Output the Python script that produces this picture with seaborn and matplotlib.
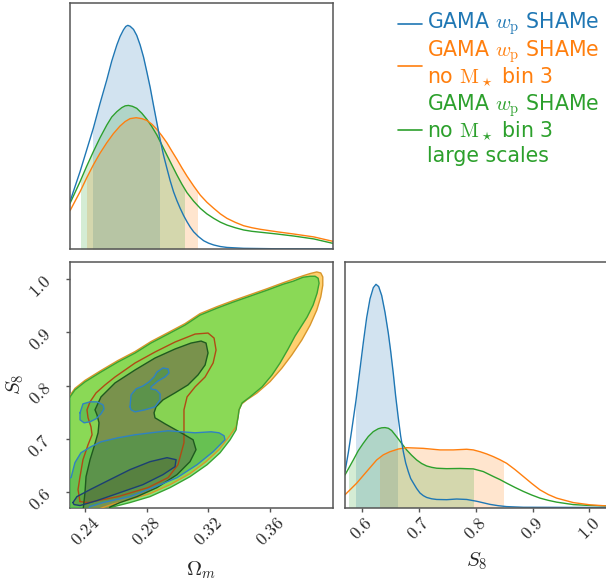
import numpy as np
import matplotlib
matplotlib.use("Agg")
import matplotlib.pyplot as plt
import seaborn as sns
from matplotlib.patches import Rectangle
from matplotlib.lines import Line2D

sns.set_style("white")
plt.rcParams["font.family"] = ["DejaVu Sans"]
plt.rcParams["mathtext.fontset"] = "cm"

# ---------------- data ----------------
labels = [r"GAMA $w_{\rm p}$ SHAMe",
          "GAMA $w_{\\rm p}$ SHAMe\nno $\\mathrm{M}_\\star$ bin 3",
          "GAMA $w_{\\rm p}$ SHAMe\nno $\\mathrm{M}_\\star$ bin 3\nlarge scales"]
colors = ["#1f77b4", "#ff7f0e", "#2ca02c"]

om_ticks = [0.24, 0.28, 0.32, 0.36]
s8_ticks = [0.6, 0.7, 0.8, 0.9, 1.0]
om_lim = (0.2303, 0.4005)
s8_lim = (0.5708, 1.0325)

# marginal of Omega_m (relative density, peak of first chain = 1)
om_blue_x = [0.2303,0.2335,0.2368,0.2411,0.2454,0.2497,0.2541,0.2573,0.2606,0.2627,0.2649,0.2664,
             0.2677,0.2692,0.2714,0.2735,0.2757,0.2779,0.2800,0.2822,0.2843,0.2865,0.2887,0.2908,
             0.2930,0.2951,0.2973,0.2995,0.3016,0.3038,0.3060,0.3081,0.3103,0.3135,0.3168,0.3200,
             0.3233,0.3276,0.3319,0.3427,0.3643,0.4006]
om_blue_d = [0.212,0.278,0.346,0.443,0.540,0.650,0.756,0.840,0.912,0.950,0.980,0.995,
             1.000,0.996,0.982,0.955,0.912,0.858,0.793,0.722,0.644,0.565,0.487,0.420,
             0.361,0.306,0.256,0.216,0.182,0.150,0.122,0.098,0.077,0.055,0.037,0.026,
             0.018,0.011,0.007,0.003,0.001,0.0]
om_orange_x = [0.2303,0.2368,0.2411,0.2454,0.2497,0.2541,0.2584,0.2627,0.2660,0.2692,0.2731,0.2768,
               0.2800,0.2833,0.2865,0.2897,0.2930,0.2962,0.2995,0.3027,0.3060,0.3103,0.3146,0.3189,
               0.3233,0.3276,0.3319,0.3373,0.3427,0.3481,0.3535,0.3643,0.3751,0.3881,0.4006]
om_orange_d = [0.171,0.256,0.318,0.376,0.428,0.475,0.516,0.550,0.570,0.583,0.587,0.583,
               0.575,0.558,0.535,0.507,0.475,0.438,0.401,0.363,0.326,0.282,0.241,0.209,
               0.182,0.157,0.137,0.119,0.104,0.095,0.088,0.077,0.067,0.054,0.034]
om_green_x = [0.2303,0.2368,0.2411,0.2454,0.2497,0.2541,0.2573,0.2606,0.2638,0.2660,0.2681,0.2707,
              0.2735,0.2768,0.2800,0.2833,0.2865,0.2897,0.2930,0.2962,0.2995,0.3027,0.3060,0.3103,
              0.3146,0.3189,0.3233,0.3276,0.3319,0.3373,0.3427,0.3481,0.3535,0.3643,0.3751,0.3881,
              0.4006]
om_green_d = [0.204,0.301,0.370,0.435,0.497,0.554,0.590,0.614,0.632,0.640,0.642,0.638,
              0.629,0.607,0.580,0.547,0.510,0.466,0.420,0.376,0.331,0.290,0.252,0.214,
              0.182,0.157,0.137,0.120,0.107,0.095,0.085,0.079,0.075,0.067,0.058,0.045,
              0.025]

# marginal of S8
s8_blue_x = [0.5708,0.5766,0.5825,0.5901,0.5971,0.6030,0.6088,0.6147,0.6205,0.6252,0.6299,0.6352,
             0.6410,0.6469,0.6510,0.6556,0.6597,0.6644,0.6685,0.6732,0.6773,0.6820,0.6861,0.6907,
             0.6966,0.7024,0.7083,0.7142,0.7229,0.7317,0.7493,0.7668,0.7844,0.8019,0.8136,0.8253,
             0.8400,0.8546,0.8839,1.0302]
s8_blue_d = [0.161,0.245,0.345,0.480,0.620,0.740,0.850,0.935,0.985,1.000,0.990,0.950,
             0.875,0.780,0.700,0.600,0.500,0.400,0.320,0.250,0.200,0.160,0.130,0.110,
             0.085,0.065,0.053,0.045,0.039,0.036,0.035,0.038,0.036,0.028,0.021,0.014,
             0.008,0.004,0.001,0.0]
s8_orange_x = [0.5708,0.5913,0.6088,0.6264,0.6381,0.6498,0.6644,0.6790,0.7083,0.7376,0.7610,0.7844,
               0.7961,0.8078,0.8195,0.8312,0.8429,0.8546,0.8692,0.8839,0.8985,0.9131,0.9278,0.9424,
               0.9716,1.0009,1.0302]
s8_orange_d = [0.057,0.109,0.161,0.213,0.236,0.250,0.262,0.268,0.265,0.258,0.258,0.261,
               0.258,0.250,0.240,0.228,0.214,0.198,0.170,0.139,0.108,0.079,0.058,0.042,
               0.022,0.012,0.007]
s8_green_x = [0.5708,0.5854,0.5942,0.6030,0.6117,0.6205,0.6293,0.6352,0.6410,0.6469,0.6527,0.6615,
              0.6703,0.6790,0.6878,0.6966,0.7054,0.7142,0.7229,0.7317,0.7493,0.7727,0.7961,0.8136,
              0.8312,0.8429,0.8546,0.8692,0.8839,0.8985,0.9131,0.9278,0.9424,0.9716,1.0009,1.0302]
s8_green_d = [0.146,0.213,0.255,0.288,0.318,0.340,0.353,0.357,0.358,0.355,0.345,0.317,
              0.287,0.258,0.234,0.213,0.197,0.186,0.180,0.176,0.174,0.175,0.173,0.161,
              0.139,0.125,0.109,0.090,0.072,0.056,0.042,0.032,0.024,0.013,0.009,0.007]

# 68% intervals
om_intervals = [(0.2454, 0.2878), (0.2411, 0.3124), (0.2374, 0.3042)]
s8_intervals = [(0.5901, 0.6615), (0.6322, 0.8487), (0.5778, 0.7961)]

# 2D contours (Omega_m, S8)
green95_om = [0.2303,0.2335,0.2400,0.2504,0.2614,0.2725,0.2828,0.2939,0.3049,0.3146,0.3256,0.3360,
              0.3470,0.3581,0.3685,0.3749,0.3814,0.3860,0.3892,0.3912,0.3918,0.3905,0.3879,0.3840,
              0.3795,0.3762,0.3717,0.3665,0.3613,0.3548,0.3470,0.3419,0.3399,0.3393,0.3386,0.3380,
              0.3341,0.3276,0.3192,0.3081,0.2952,0.2822,0.2692,0.2582,0.2498,0.2108,0.2108]
green95_s8 = [0.7788,0.7920,0.8070,0.8257,0.8445,0.8613,0.8801,0.8970,0.9139,0.9326,0.9457,0.9570,
              0.9682,0.9795,0.9907,0.9963,1.0038,1.0057,1.0057,1.0020,0.9926,0.9738,0.9513,0.9288,
              0.9082,0.8932,0.8688,0.8426,0.8201,0.7976,0.7788,0.7676,0.7545,0.7413,0.7301,0.7170,
              0.6982,0.6738,0.6513,0.6288,0.6082,0.5913,0.5801,0.5720,0.5632,0.5295,0.7920]
orange95_om = [0.2303,0.2335,0.2400,0.2504,0.2614,0.2725,0.2828,0.2939,0.3049,0.3146,0.3256,0.3360,
               0.3470,0.3581,0.3685,0.3749,0.3814,0.3860,0.3903,0.3929,0.3942,0.3942,0.3929,0.3903,
               0.3860,0.3806,0.3741,0.3676,0.3600,0.3514,0.3449,0.3417,0.3399,0.3393,0.3386,0.3380,
               0.3334,0.3269,0.3185,0.3081,0.2952,0.2822,0.2692,0.2582,0.2498,0.2433,0.2108,0.2108]
orange95_s8 = [0.7816,0.7948,0.8098,0.8285,0.8473,0.8641,0.8829,0.8998,0.9167,0.9354,0.9485,0.9598,
               0.9710,0.9823,0.9935,1.0001,1.0066,1.0108,1.0138,1.0119,1.0044,0.9888,0.9669,0.9420,
               0.9138,0.8857,0.8576,0.8326,0.8075,0.7858,0.7732,0.7657,0.7545,0.7413,0.7301,0.7226,
               0.7038,0.6795,0.6570,0.6345,0.6138,0.5970,0.5857,0.5773,0.5689,0.5614,0.5295,0.7920]
orange68_om = [0.2368,0.2355,0.2368,0.2387,0.2420,0.2446,0.2439,0.2420,0.2413,0.2433,0.2472,0.2530,
               0.2595,0.2725,0.2854,0.2984,0.3114,0.3198,0.3237,0.3250,0.3231,0.3179,0.3114,0.3062,
               0.3042,0.3042,0.3042,0.3003,0.2939,0.2809,0.2614,0.2420]
orange68_s8 = [0.5819,0.6044,0.6288,0.6607,0.6888,0.7076,0.7226,0.7395,0.7545,0.7695,0.7863,0.8013,
               0.8163,0.8426,0.8632,0.8820,0.8970,0.8989,0.8895,0.8669,0.8426,0.8163,0.7976,0.7788,
               0.7545,0.7263,0.6926,0.6513,0.6270,0.6082,0.5913,0.5801]
green68_om = [0.2387,0.2400,0.2407,0.2433,0.2459,0.2485,0.2491,0.2478,0.2465,0.2504,0.2595,0.2725,
              0.2854,0.2984,0.3088,0.3153,0.3185,0.3198,0.3179,0.3133,0.3068,0.2984,0.2906,0.2861,
              0.2848,0.2854,0.2887,0.2919,0.3023,0.3101,0.3120,0.3081,0.2997,0.2867,0.2738,0.2627,
              0.2562,0.2543]
green68_s8 = [0.5632,0.5988,0.6288,0.6607,0.6851,0.7113,0.7301,0.7451,0.7545,0.7788,0.8051,0.8295,
              0.8519,0.8689,0.8801,0.8838,0.8801,0.8614,0.8388,0.8201,0.8013,0.7864,0.7732,0.7601,
              0.7489,0.7395,0.7338,0.7282,0.7113,0.6982,0.6795,0.6570,0.6326,0.6082,0.5913,0.5801,
              0.5716,0.5576]
blue95_om = [0.2238,0.2310,0.2335,0.2374,0.2439,0.2504,0.2614,0.2725,0.2828,0.2939,0.3023,0.3114,
             0.3218,0.3269,0.3302,0.3308,0.3231,0.3127,0.2997,0.2841,0.2692,0.2517,0.2433,0.2400,
             0.2238]
blue95_s8 = [0.6270,0.6270,0.6551,0.6738,0.6851,0.6944,0.7019,0.7076,0.7113,0.7151,0.7132,0.7113,
             0.7132,0.7113,0.7057,0.6982,0.6757,0.6513,0.6269,0.6082,0.5913,0.5801,0.5726,0.5576,
             0.5576]
blue95_isl1_om = [0.2368,0.2387,0.2433,0.2478,0.2517,0.2524,0.2504,0.2472,0.2433,0.2394,0.2368]
blue95_isl1_s8 = [0.7488,0.7657,0.7695,0.7695,0.7638,0.7563,0.7470,0.7376,0.7320,0.7301,0.7357]
blue95_isl2_om = [0.2692,0.2699,0.2731,0.2777,0.2815,0.2848,0.2867,0.2906,0.2939,0.2945,0.2919,
                  0.2874,0.2828,0.2828,0.2861,0.2887,0.2887,0.2854,0.2789,0.2725,0.2699]
blue95_isl2_s8 = [0.7601,0.7826,0.7938,0.7995,0.8070,0.8163,0.8257,0.8332,0.8314,0.8238,0.8163,
                  0.8088,0.7976,0.7938,0.7920,0.7845,0.7732,0.7601,0.7545,0.7507,0.7545]
blue68_om = [0.2322,0.2348,0.2433,0.2562,0.2692,0.2822,0.2932,0.2991,0.2984,0.2906,0.2776,0.2627,
             0.2478,0.2368,0.2329]
blue68_s8 = [0.5801,0.5913,0.6044,0.6232,0.6420,0.6570,0.6645,0.6607,0.6476,0.6326,0.6138,0.5988,
             0.5838,0.5745,0.5763]

# ---------------- figure ----------------
fig = plt.figure(figsize=(6.06, 5.82), dpi=100)
W, H = 606.0, 582.0
def axes_px(l, t, r, b):
    return fig.add_axes([l / W, 1 - b / H, (r - l) / W, (b - t) / H])

ax_om = axes_px(70, 3, 333, 249)
ax_2d = axes_px(70, 262, 332.5, 507.5)
ax_s8 = axes_px(345, 262, 608, 507.5)

spine_col = "#555555"
for ax in (ax_om, ax_2d, ax_s8):
    for s in ax.spines.values():
        s.set_color(spine_col)
        s.set_linewidth(1.1)
        s.set_visible(True)


def marginal(ax, xs, ds, ivs, lim):
    for x, d, (lo, hi), c in zip(xs, ds, ivs, colors):
        poly = ax.fill_between(x, 0, d, color=c, alpha=0.2, lw=0)
        rect = Rectangle((lo, -1), hi - lo, 5, transform=ax.transData)
        poly.set_clip_path(rect)
    for x, d, c in zip(xs[::-1], ds[::-1], colors[::-1]):
        sns.lineplot(x=x, y=d, ax=ax, color=c, lw=1.0, sort=False, estimator=None)
    ax.set_xlim(*lim)
    ax.set_ylim(0, 1.1)
    ax.set_yticks([])
    ax.set_xlabel("")
    ax.set_ylabel("")


marginal(ax_om, [om_blue_x, om_orange_x, om_green_x],
         [om_blue_d, om_orange_d, om_green_d], om_intervals, om_lim)
ax_om.set_xticks([])
marginal(ax_s8, [s8_blue_x, s8_orange_x, s8_green_x],
         [s8_blue_d, s8_orange_d, s8_green_d], s8_intervals, s8_lim)

# 2D panel
def fill(ax, x, y, fc, alpha, z):
    ax.fill(x, y, color=fc, alpha=alpha, lw=0, zorder=z)

def edge(ax, x, y, ec, z, lw=1.0):
    ax.plot(list(x) + [x[0]], list(y) + [y[0]], color=ec, lw=lw, zorder=z,
            solid_joinstyle="round")

fill(ax_2d, orange95_om, orange95_s8, "#ffd070", 1.0, 1)
fill(ax_2d, orange68_om, orange68_s8, "#f5be64", 1.0, 2)
fill(ax_2d, green95_om, green95_s8, "#59dd4c", 0.7, 3)
fill(ax_2d, green68_om, green68_s8, "#74774a", 0.7, 4)
fill(ax_2d, blue95_om, blue95_s8, "#28964b", 0.35, 5)
fill(ax_2d, blue95_isl1_om, blue95_isl1_s8, "#28964b", 0.35, 5)
fill(ax_2d, blue95_isl2_om, blue95_isl2_s8, "#28964b", 0.35, 5)
fill(ax_2d, blue68_om, blue68_s8, "#463c14", 0.2, 6)

edge(ax_2d, orange95_om, orange95_s8, "#d9962a", 7)
edge(ax_2d, green95_om, green95_s8, "#3aa332", 7)
edge(ax_2d, orange68_om, orange68_s8, "#b04a14", 8)
edge(ax_2d, green68_om, green68_s8, "#1f5a1f", 8)
edge(ax_2d, blue95_om, blue95_s8, "#2f82c2", 9)
edge(ax_2d, blue95_isl1_om, blue95_isl1_s8, "#2f82c2", 9)
edge(ax_2d, blue95_isl2_om, blue95_isl2_s8, "#2f82c2", 9)
edge(ax_2d, blue68_om, blue68_s8, "#1c3f73", 9)

ax_2d.set_xlim(*om_lim)
ax_2d.set_ylim(*s8_lim)

# ticks
ax_2d.set_xticks(om_ticks)
ax_2d.set_xticklabels([f"${t:.2f}$" for t in om_ticks], rotation=45)
ax_2d.set_yticks(s8_ticks)
ax_2d.set_yticklabels([f"${t:.1f}$" for t in s8_ticks], rotation=45)
ax_s8.set_xticks(s8_ticks)
ax_s8.set_xticklabels([f"${t:.1f}$" for t in s8_ticks], rotation=45)
for ax in (ax_2d, ax_s8):
    ax.tick_params(axis="x", direction="out", length=3, width=1, color=spine_col,
                   labelsize=12.5, pad=1.5, bottom=True)
ax_2d.tick_params(axis="y", direction="out", length=3, width=1, color=spine_col,
                  labelsize=12.5, pad=8, left=True)

ax_2d.set_xlabel(r"$\Omega_m$", fontsize=15, va="baseline")
ax_2d.xaxis.set_label_coords(0.5, -0.275)
ax_2d.set_ylabel(r"$S_8$", fontsize=15)
ax_2d.yaxis.set_label_coords(-0.168, 0.5)
ax_s8.set_xlabel(r"$S_8$", fontsize=15, va="baseline")
ax_s8.xaxis.set_label_coords(0.5, -0.24)

# legend (coloured text, drawn line by line)
line_baselines = [[29], [57, 83], [111, 137, 162]]
handle_y = [24, 66, 130]
for lab, c, bases, hy in zip(labels, colors, line_baselines, handle_y):
    for line, b in zip(lab.split("\n"), bases):
        fig.text(427 / W, 1 - b / H, line, color=c, fontsize=14.8,
                 ha="left", va="baseline")
    fig.add_artist(Line2D([398 / W, 422 / W], [1 - hy / H, 1 - hy / H],
                          transform=fig.transFigure, color=c, lw=1.2))

fig.savefig("out.png", dpi=100)
